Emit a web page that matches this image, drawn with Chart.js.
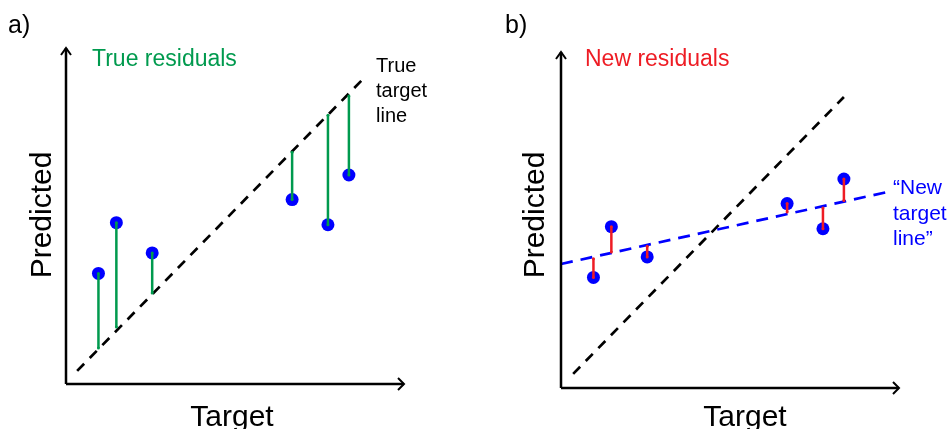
<!DOCTYPE html>
<html>
<head>
<meta charset="utf-8">
<script src="https://cdn.jsdelivr.net/npm/chart.js@4.4.1/dist/chart.umd.min.js"></script>
<style>
    html, body { margin: 0; padding: 0; background: #fff; }
    #wrap { position: relative; width: 950px; height: 429px; }
    .panel { position: absolute; top: 0; width: 475px; height: 429px; }
</style>
</head>
<body>
<div id="wrap">
    <div class="panel" style="left:0"><canvas id="chartA" width="475" height="429"></canvas></div>
    <div class="panel" style="left:475px"><canvas id="chartB" width="475" height="429"></canvas></div>
</div>
<script>
// the six observations (same in both panels), axis units 0..10
const targetValues = [0.96, 1.49, 2.55, 6.69, 7.75, 8.37];
const predictedValues = [3.29, 4.80, 3.90, 5.49, 4.74, 6.22];

// panel a: dashed "true target line" and where each residual meets it
const trueLineXA = [0.33, 8.79];
const trueLineYA = [0.39, 9.08];
const trueLineAtPoint = [1.07, 1.70, 2.71, 6.90, 8.00, 8.57];

// panel b: the same identity line, plus the flatter "new target line"
const trueLineXB = [0.36, 8.37];
const trueLineYB = [0.42, 8.66];
const newLineX = [0.0, 9.64];
const newLineY = [3.69, 5.83];
const newLineAtPoint = [3.85, 4.05, 4.22, 5.24, 5.36, 5.58];

const BLUE = '#0000ff';
const GREEN = '#009a4e';
const RED = '#ee1c24';
const FONT = '"Liberation Sans", Arial, sans-serif';

// arrows for the two axes plus the free text of each panel
const diagramPlugin = {
    id: 'diagram',
    afterDraw(chart, args, opts) {
        const ctx = chart.ctx;
        const area = chart.chartArea;
        ctx.save();

        // axes with open arrowheads
        ctx.strokeStyle = '#000';
        ctx.lineWidth = 2.5;
        ctx.lineCap = 'butt';
        ctx.beginPath();
        ctx.moveTo(area.left, area.bottom);
        ctx.lineTo(area.left, area.top);
        ctx.moveTo(area.left, area.bottom);
        ctx.lineTo(area.right, area.bottom);
        ctx.stroke();

        ctx.lineWidth = 2;
        ctx.beginPath();
        ctx.moveTo(area.left - 5, area.top + 7);
        ctx.lineTo(area.left, area.top);
        ctx.lineTo(area.left + 5, area.top + 7);
        ctx.moveTo(area.right - 6, area.bottom - 6);
        ctx.lineTo(area.right, area.bottom);
        ctx.lineTo(area.right - 6, area.bottom + 6);
        ctx.stroke();

        // text
        ctx.textBaseline = 'alphabetic';
        (opts.texts || []).forEach(t => {
            ctx.fillStyle = t.color || '#000';
            ctx.font = `${t.size}px ${FONT}`;
            ctx.textAlign = t.align || 'left';
            if (t.rotate) {
                ctx.save();
                ctx.translate(t.x, t.y);
                ctx.rotate(-Math.PI / 2);
                ctx.fillText(t.text, 0, 0);
                ctx.restore();
            } else {
                t.text.split('\n').forEach((line, i) => {
                    ctx.fillText(line, t.x, t.y + i * (t.lineHeight || 0));
                });
            }
        });
        ctx.restore();
    }
};

function lineDataset(xs, ys, color, dash) {
    return {
        data: xs.map((x, i) => ({ x: x, y: ys[i] })),
        showLine: true,
        borderColor: color,
        borderWidth: 2.7,
        borderDash: dash,
        pointRadius: 0,
        clip: false
    };
}

function residualDatasets(lineValues, color) {
    return targetValues.map((x, i) => ({
        data: [{ x: x, y: predictedValues[i] }, { x: x, y: lineValues[i] }],
        showLine: true,
        borderColor: color,
        borderWidth: 2.5,
        pointRadius: 1.5,
        pointBackgroundColor: color,
        pointBorderWidth: 0,
        clip: false
    }));
}

function pointDataset() {
    return {
        data: targetValues.map((x, i) => ({ x: x, y: predictedValues[i] })),
        pointRadius: 6.5,
        pointBackgroundColor: BLUE,
        pointBorderWidth: 0,
        clip: false
    };
}

function makeChart(canvasId, datasets, padding, texts) {
    return new Chart(document.getElementById(canvasId), {
        type: 'scatter',
        data: { datasets: datasets },
        options: {
            responsive: false,
            animation: false,
            events: [],
            layout: { padding: padding },
            scales: {
                x: { type: 'linear', min: 0, max: 10, display: false },
                y: { type: 'linear', min: 0, max: 10, display: false }
            },
            plugins: {
                legend: { display: false },
                tooltip: { enabled: false },
                diagram: { texts: texts }
            }
        },
        plugins: [diagramPlugin]
    });
}

// panel a) true residuals against the identity line
makeChart('chartA', [
    ...residualDatasets(trueLineAtPoint, GREEN),
    pointDataset(),
    lineDataset(trueLineXA, trueLineYA, '#000', [10, 8])
], { left: 66, right: 71, top: 48, bottom: 45 }, [
    { text: 'a)', x: 8, y: 33, size: 25 },
    { text: 'True residuals', x: 92, y: 66, size: 23, color: GREEN },
    { text: 'True\ntarget\nline', x: 376, y: 72, size: 20, lineHeight: 25 },
    { text: 'Predicted', x: 51, y: 215, size: 30, align: 'center', rotate: true },
    { text: 'Target', x: 232, y: 426, size: 30, align: 'center' }
]);

// panel b) residuals against the fitted "new" line
makeChart('chartB', [
    ...residualDatasets(newLineAtPoint, RED),
    pointDataset(),
    lineDataset(newLineX, newLineY, BLUE, [12, 8]),
    lineDataset(trueLineXB, trueLineYB, '#000', [10, 8])
], { left: 86, right: 51, top: 52, bottom: 41 }, [
    { text: 'b)', x: 30, y: 33, size: 25 },
    { text: 'New residuals', x: 110, y: 66, size: 23, color: RED },
    { text: '\u201cNew\ntarget\nline\u201d', x: 418, y: 194, size: 21, lineHeight: 25.5, color: BLUE },
    { text: 'Predicted', x: 69, y: 215, size: 30, align: 'center', rotate: true },
    { text: 'Target', x: 270, y: 426, size: 30, align: 'center' }
]);
</script>
</body>
</html>
